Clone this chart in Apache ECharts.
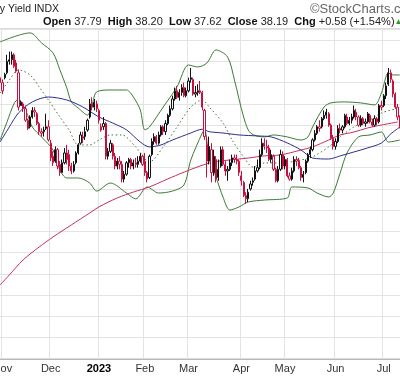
<!DOCTYPE html>
<html>
<head>
<meta charset="utf-8">
<script src="https://cdn.jsdelivr.net/npm/echarts@6/dist/echarts.min.js"></script>
<style>
  html, body { margin: 0; padding: 0; background: #fff; }
  #chart { width: 400px; height: 376px; }
</style>
</head>
<body>
<div id="chart"></div>
<script>
// trading days on the chart, month by month
const months = ['2022-10', '2022-11', '2022-12', '2023-01', '2023-02', '2023-03', '2023-04', '2023-05', '2023-06', '2023-07'];
const monthDays = [
    [31],
    [1, 2, 3, 4, 7, 8, 9, 10, 11, 14, 15, 16, 17, 18, 21, 22, 23, 25, 28, 29, 30],
    [1, 2, 5, 6, 7, 8, 9, 12, 13, 14, 15, 16, 19, 20, 21, 22, 23, 27, 28, 29, 30],
    [3, 4, 5, 6, 9, 10, 11, 12, 13, 17, 18, 19, 20, 23, 24, 25, 26, 27, 30, 31],
    [1, 2, 3, 6, 7, 8, 9, 10, 13, 14, 15, 16, 17, 21, 22, 23, 24, 27, 28],
    [1, 2, 3, 6, 7, 8, 9, 10, 13, 14, 15, 16, 17, 20, 21, 22, 23, 24, 27, 28, 29, 30, 31],
    [3, 4, 5, 6, 10, 11, 12, 13, 14, 17, 18, 19, 20, 21, 24, 25, 26, 27, 28],
    [1, 2, 3, 4, 5, 8, 9, 10, 11, 12, 15, 16, 17, 18, 19, 22, 23, 24, 25, 26, 30, 31],
    [1, 2, 5, 6, 7, 8, 9, 12, 13, 14, 15, 16, 20, 21, 22, 23, 26, 27, 28, 29, 30],
    [3, 5, 6, 7, 10, 11, 12, 13]
];
const monthNames = ['Jan', 'Feb', 'Mar', 'Apr', 'May', 'Jun', 'Jul', 'Aug', 'Sep', 'Oct', 'Nov', 'Dec'];

// daily bars: open, high, low, close
const ohlc = [
    // oct / nov
    [40.6, 40.9, 40.1, 40.3],
    [40.3, 40.5, 39.6, 39.8], [40.6, 40.9, 40.5, 40.8], [40.9, 42.0, 40.8, 41.6], [41.6, 42.2, 41.4, 41.7],
    [41.7, 42.2, 41.4, 42.0], [42.0, 42.1, 41.2, 41.3], [41.5, 41.7, 40.9, 41.0], [40.9, 41.1, 38.6, 38.8],
    [38.9, 39.2, 38.9, 39.1], [39.0, 39.1, 38.5, 38.7], [38.7, 38.9, 37.9, 38.0], [38.0, 38.1, 37.4, 37.5],
    [37.6, 38.3, 37.5, 38.2], [38.2, 38.8, 38.1, 38.6], [38.6, 38.8, 38.2, 38.5], [38.4, 38.5, 37.7, 37.8],
    [37.8, 37.9, 37.1, 37.3], [37.3, 37.5, 37.0, 37.2], [37.3, 37.6, 37.0, 37.4], [37.5, 38.4, 37.4, 37.6],
    [37.6, 38.0, 36.7, 36.8],
    // dec
    [36.6, 36.8, 35.5, 35.7], [35.8, 36.1, 35.2, 35.4], [35.5, 36.4, 35.4, 36.2], [36.2, 36.3, 35.0, 35.2],
    [35.3, 35.5, 34.6, 34.8], [34.8, 35.6, 34.8, 35.4], [35.4, 36.3, 35.3, 36.0], [36.0, 36.5, 35.3, 35.6],
    [35.9, 36.2, 34.9, 35.2], [35.2, 35.4, 34.7, 34.9], [34.9, 35.5, 34.8, 35.3], [35.4, 36.1, 35.3, 36.0],
    [36.0, 36.6, 35.9, 36.5], [36.6, 37.3, 36.5, 37.1], [36.9, 37.3, 36.6, 37.0], [37.0, 37.6, 36.8, 37.3],
    [37.4, 38.1, 37.3, 38.0], [38.2, 39.3, 38.1, 39.0], [39.0, 39.4, 38.6, 38.8], [38.8, 39.3, 38.6, 39.1],
    [39.0, 39.2, 38.5, 38.7],
    // jan
    [38.6, 38.7, 37.8, 38.0], [37.4, 37.8, 37.3, 37.6], [37.6, 38.2, 37.4, 37.8], [37.8, 37.9, 35.6, 35.8],
    [35.8, 36.3, 35.6, 36.1], [36.1, 36.8, 36.0, 36.6], [36.5, 36.6, 35.6, 35.8], [35.8, 36.0, 35.0, 35.2],
    [35.2, 35.7, 35.0, 35.5], [35.5, 35.8, 35.0, 35.3], [35.3, 35.5, 34.2, 34.4], [34.4, 34.9, 34.2, 34.7],
    [34.7, 35.5, 34.6, 35.4], [35.4, 35.7, 35.1, 35.6], [35.6, 35.7, 35.0, 35.2], [35.2, 35.6, 35.0, 35.4],
    [35.4, 35.7, 35.1, 35.3], [35.3, 35.8, 35.1, 35.5], [35.5, 36.0, 35.4, 35.8], [35.8, 35.9, 35.2, 35.3],
    // feb
    [35.5, 36.0, 34.6, 34.8], [34.8, 34.9, 34.2, 34.4], [34.5, 35.9, 34.4, 35.8], [35.9, 36.9, 35.8, 36.7],
    [36.7, 37.2, 36.5, 37.0], [37.0, 37.1, 36.5, 36.6], [36.6, 37.3, 36.5, 37.1], [37.1, 37.7, 37.0, 37.6],
    [37.6, 37.7, 37.1, 37.3], [37.3, 38.0, 37.1, 37.8], [37.8, 38.4, 37.7, 38.3], [38.3, 38.9, 38.2, 38.7],
    [38.7, 39.5, 38.6, 39.3], [39.3, 40.0, 39.2, 39.8], [39.8, 40.1, 39.3, 39.4], [39.4, 39.9, 39.2, 39.7],
    [39.7, 40.2, 39.5, 40.0], [40.0, 40.3, 39.4, 39.5], [39.5, 40.0, 39.4, 39.8],
    // mar
    [39.8, 40.6, 39.7, 40.4], [40.5, 41.2, 40.3, 40.6], [40.5, 40.6, 39.5, 39.6], [39.6, 40.1, 39.4, 39.7],
    [39.7, 40.2, 39.5, 39.8], [39.8, 40.4, 39.6, 39.7], [39.7, 39.8, 38.6, 38.8], [38.6, 38.7, 36.8, 37.0],
    [36.5, 37.0, 34.5, 35.5], [35.5, 37.0, 35.3, 36.4], [36.2, 36.6, 34.2, 34.8], [34.8, 36.2, 34.6, 35.8],
    [35.6, 35.8, 34.2, 34.4], [34.5, 35.6, 34.3, 35.0], [35.2, 36.4, 35.1, 36.2], [36.2, 36.4, 35.2, 35.3],
    [35.3, 35.5, 34.6, 34.9], [34.9, 35.2, 34.3, 35.0], [35.0, 35.6, 34.9, 35.4], [35.4, 35.9, 35.2, 35.7],
    [35.7, 35.9, 35.4, 35.6], [35.6, 35.9, 35.3, 35.5], [35.5, 35.6, 34.6, 34.8],
    // apr
    [34.6, 34.9, 34.0, 34.3], [34.2, 34.3, 33.3, 33.4], [33.4, 33.6, 32.9, 33.2], [33.2, 33.8, 33.0, 33.6],
    [33.8, 34.3, 33.7, 34.1], [34.2, 34.5, 34.0, 34.3], [34.4, 35.2, 34.3, 34.9], [34.9, 35.6, 34.8, 35.1],
    [35.1, 36.2, 35.0, 35.9], [35.9, 36.9, 35.8, 36.6], [36.6, 36.9, 36.2, 36.4], [36.4, 36.8, 36.0, 36.3],
    [36.3, 36.5, 35.5, 35.6], [35.6, 36.2, 35.4, 35.9], [35.8, 35.9, 34.9, 35.0], [35.0, 35.1, 34.2, 34.3],
    [34.3, 35.2, 34.2, 35.0], [35.0, 36.2, 34.9, 35.9], [35.9, 36.1, 35.0, 35.2],
    // may
    [35.2, 35.8, 35.0, 35.6], [35.6, 35.7, 34.5, 34.6], [34.6, 34.8, 34.3, 34.4], [34.4, 35.1, 34.3, 34.9],
    [34.9, 35.8, 34.8, 35.6], [35.6, 35.8, 35.2, 35.5], [35.5, 35.7, 35.0, 35.1], [35.1, 35.2, 34.3, 34.5],
    [34.5, 34.9, 34.2, 34.7], [34.8, 35.6, 34.7, 35.5], [35.5, 36.0, 35.4, 35.9], [35.9, 36.4, 35.7, 36.2],
    [36.2, 36.9, 36.1, 36.8], [36.8, 37.4, 36.7, 37.2], [37.2, 37.7, 37.1, 37.6], [37.6, 38.0, 37.3, 37.5],
    [37.6, 38.2, 37.5, 38.1], [38.1, 38.6, 38.0, 38.3], [38.3, 38.7, 38.1, 38.5], [38.4, 38.5, 37.6, 37.7],
    [37.7, 37.8, 36.8, 36.9], [36.9, 37.1, 36.2, 36.4],
    // jun
    [36.4, 36.9, 36.2, 36.7], [36.7, 37.7, 36.6, 37.5], [37.5, 37.8, 37.2, 37.4], [37.4, 37.7, 37.2, 37.6],
    [37.6, 38.4, 37.5, 38.3], [38.2, 38.4, 37.7, 37.8], [37.8, 38.2, 37.7, 38.0], [38.0, 38.4, 37.8, 38.2],
    [38.2, 38.9, 38.1, 38.6], [38.5, 38.7, 38.0, 38.2], [38.2, 38.3, 37.6, 37.7], [37.7, 38.3, 37.6, 38.1],
    [38.1, 38.2, 37.7, 37.8], [37.8, 38.1, 37.6, 37.9], [37.9, 38.5, 37.8, 38.4], [38.3, 38.4, 37.8, 37.9],
    [37.9, 38.1, 37.6, 37.7], [37.7, 38.3, 37.6, 38.1], [38.1, 38.2, 37.7, 37.9], [37.9, 39.0, 37.8, 38.9],
    [38.9, 39.2, 38.6, 38.8],
    // jul
    [38.9, 39.6, 38.8, 39.5], [39.5, 40.3, 39.3, 40.1], [40.2, 41.2, 40.1, 40.9], [40.9, 41.1, 40.3, 40.5],
    [40.4, 40.5, 39.4, 39.6], [39.6, 39.7, 38.7, 38.8], [38.8, 39.0, 38.0, 38.2], [38.2, 38.3, 37.5, 37.6]
];

const bbUpper = [[0, 42.79], [13, 43.34], [18, 42.73], [23, 42.12], [26, 41.08], [29, 39.98], [31, 39.12], [34, 38.75],
    [38, 38.32], [40, 38.94], [42, 39.73], [48, 39.85], [55, 39.85], [58, 39.42], [61, 38.63], [63, 37.41], [65, 37.59],
    [71, 38.81], [77, 40.04], [82, 41.38], [86, 41.26], [90, 41.50], [94, 42.30], [99, 41.87], [102, 40.46], [106, 38.20],
    [109, 37.22], [115, 36.98], [119, 37.10], [125, 36.98], [131, 36.79], [134, 36.98], [136, 37.59], [141, 38.81],
    [144, 39.06], [150, 39.12], [157, 39.06], [163, 38.94], [166, 39.67], [169, 40.89], [171, 40.77], [174, 40.77]];
const bbMiddle = [[0, 39.67], [4, 40.46], [8, 41.08], [13, 40.77], [17, 40.04], [21, 39.24], [26, 38.20], [30, 37.41],
    [34, 36.49], [39, 36.49], [43, 36.79], [48, 37.10], [53, 37.10], [59, 36.37], [65, 35.45], [71, 36.37], [77, 37.59],
    [83, 38.81], [88, 39.24], [91, 38.81], [97, 37.83], [101, 36.79], [106, 35.76], [110, 35.14], [115, 35.39],
    [122, 35.39], [131, 35.57], [136, 35.76], [143, 36.37], [148, 36.98], [154, 37.59], [161, 38.02], [166, 38.45],
    [174, 38.75]];
const bbLower = [[0, 36.8], [3, 37.9], [6, 39.0], [8, 39.3], [10, 38.9], [12, 38.3], [14, 37.59], [18, 36.98], [23, 36.18],
    [26, 34.96], [29, 34.47], [34, 34.47], [39, 34.16], [42, 33.67], [48, 34.16], [55, 33.55], [59, 33.19], [64, 33.92],
    [69, 33.55], [75, 33.67], [80, 34.04], [83, 35.57], [88, 37.22], [89, 37.41], [91, 35.76], [94, 34.53], [97, 33.31],
    [100, 32.51], [104, 32.70], [108, 33.00], [115, 33.12], [125, 33.25], [127, 33.92], [134, 33.86], [138, 33.55],
    [143, 33.31], [145, 33.55], [148, 34.77], [151, 36.00], [156, 36.98], [161, 37.10], [166, 37.28], [169, 36.67],
    [174, 36.79]];
const sma50 = [[0, 36.67], [4, 37.59], [8, 38.45], [14, 39.12], [21, 39.42], [29, 39.24], [36, 38.81], [43, 38.20],
    [49, 37.83], [55, 37.41], [61, 36.67], [65, 36.37], [70, 36.49], [75, 36.79], [83, 37.22], [88, 37.45], [91, 37.30],
    [97, 37.22], [104, 37.10], [112, 37.04], [118, 36.98], [125, 36.61], [131, 36.18], [136, 35.69], [143, 35.63],
    [148, 35.82], [154, 36.06], [160, 36.31], [166, 36.61], [170, 37.16], [174, 37.59]];
const sma200 = [[0, 27.93], [4, 28.54], [10, 29.46], [17, 30.25], [23, 30.86], [31, 31.60], [39, 32.33], [43, 32.70],
    [51, 33.25], [58, 33.61], [65, 33.92], [71, 34.29], [78, 34.71], [87, 35.20], [93, 35.45], [100, 35.57], [108, 35.69],
    [115, 35.82], [122, 35.88], [131, 36.18], [136, 36.37], [143, 36.79], [148, 37.10], [154, 37.28], [160, 37.53],
    [166, 37.71], [173, 37.89]];

const FONT = '"Liberation Sans", Arial, sans-serif';
const RED = '#c8103e';
const BLACK = '#111111';

let dates = [];
for (let m = 0; m < months.length; m++) {
    for (let d of monthDays[m]) {
        dates.push(months[m] + '-' + (d < 10 ? '0' + d : d));
    }
}

// first trading day of each month gets a grid line and a label
function isMonthStart(index) {
    if (index === 0) return false;
    return dates[index].slice(0, 7) !== dates[index - 1].slice(0, 7);
}

// stockcharts style: colour vs previous close, hollow when close > open
let candles = ohlc.map(function (b, i) {
    let prev = i === 0 ? b[0] : ohlc[i - 1][3];
    let c = b[3] >= prev ? BLACK : RED;
    return {
        value: [b[0], b[3], b[2], b[1]],
        itemStyle: {color: '#ffffff', color0: c, borderColor: c, borderColor0: c, borderColorDoji: c}
    };
});

let n = dates.length;
let chart = echarts.init(document.getElementById('chart'));
chart.setOption({
    animation: false,
    backgroundColor: '#ffffff',
    grid: {
        left: -1, right: -1, top: 29, bottom: 17,
        show: true, borderColor: '#b8b8b8', borderWidth: 1,
        outerBoundsMode: 'none'
    },
    graphic: [
        {
            type: 'text', x: 59, y: 9,
            style: {text: '10-Year US Treasury Yield INDX', font: '10.5px ' + FONT, fill: '#222', align: 'right', verticalAlign: 'middle'}
        },
        {
            type: 'text', x: 310, y: 9,
            style: {text: '\u00a9StockCharts.com', font: '13px ' + FONT, fill: '#666', verticalAlign: 'middle'}
        },
        {
            type: 'text', x: 43, y: 22,
            style: {
                text: '{b|Open} {n|37.79}  {b|High} {n|38.20}  {b|Low} {n|37.62}  {b|Close} {n|38.19}  {b|Chg} {n|+0.58 (+1.54%)}{g|\u25b2}',
                font: '11px ' + FONT, fill: '#111', verticalAlign: 'middle',
                rich: {
                    b: {fontWeight: 'bold', fontSize: 11, fontFamily: FONT, fill: '#111'},
                    n: {fontSize: 11, fontFamily: FONT, fill: '#222'},
                    g: {fontSize: 8, fontFamily: FONT, fill: '#2f9a2f'}
                }
            }
        }
    ],
    xAxis: [
        {
            type: 'category',
            data: dates,
            boundaryGap: true,
            axisLine: {lineStyle: {color: '#b8b8b8'}},
            axisTick: {show: false},
            axisLabel: {
                interval: function (index) { return isMonthStart(index); },
                formatter: function (value) {
                    let m = Number(value.slice(5, 7));
                    if (m === 1) return '{y|' + value.slice(0, 4) + '}';
                    return monthNames[m - 1];
                },
                color: '#333', fontSize: 11, fontFamily: FONT, margin: 4,
                rich: {y: {fontWeight: 'bold', color: '#000', fontSize: 11, fontFamily: FONT}}
            },
            splitLine: {
                show: true,
                interval: function (index) { return isMonthStart(index); },
                lineStyle: {color: '#e3e3e3'}
            }
        },
        {
            type: 'value', show: false,
            min: -0.5, max: n - 0.5
        }
    ],
    yAxis: {
        type: 'value',
        min: 23.4, max: 43.58, interval: 1.3,
        axisLabel: {show: false},
        axisTick: {show: false},
        axisLine: {show: false},
        splitLine: {lineStyle: {color: '#e3e3e3'}}
    },
    series: [
        {name: 'BB upper', type: 'line', xAxisIndex: 1, data: bbUpper, showSymbol: false, smooth: 0.3,
            lineStyle: {color: '#3d7a36', width: 1}, z: 3},
        {name: 'BB lower', type: 'line', xAxisIndex: 1, data: bbLower, showSymbol: false, smooth: 0.3,
            lineStyle: {color: '#3d7a36', width: 1}, z: 3},
        {name: 'BB mid', type: 'line', xAxisIndex: 1, data: bbMiddle, showSymbol: false, smooth: 0.3,
            lineStyle: {color: '#3d7a36', width: 1, type: [1.5, 2.5]}, z: 3},
        {name: 'SMA 50', type: 'line', xAxisIndex: 1, data: sma50, showSymbol: false, smooth: 0.3,
            lineStyle: {color: '#2e2e8f', width: 1}, z: 3},
        {name: 'SMA 200', type: 'line', xAxisIndex: 1, data: sma200, showSymbol: false, smooth: 0.3,
            lineStyle: {color: '#c4305f', width: 1}, z: 3},
        {
            name: '$TNX', type: 'candlestick', data: candles,
            barWidth: '75%', z: 4
        }
    ]
});
</script>
</body>
</html>
